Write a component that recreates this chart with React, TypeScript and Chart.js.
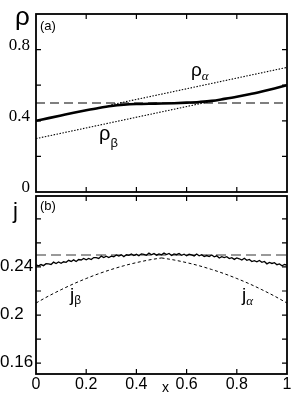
import React, { useEffect, useRef } from "react";
import { Chart, registerables } from "chart.js";
Chart.register(...registerables);

// ---------- panel (a): density ----------
const X_RHO = [0, 0.05, 0.1, 0.15, 0.2, 0.25, 0.3, 0.35, 0.4, 0.45, 0.5, 0.55, 0.6, 0.65, 0.7, 0.75, 0.8, 0.85, 0.9, 0.95, 1];
const RHO_SIM = [0.400, 0.415, 0.430, 0.445, 0.459, 0.472, 0.483, 0.490, 0.494, 0.496, 0.497, 0.499, 0.502, 0.506, 0.512, 0.523, 0.535, 0.549, 0.565, 0.582, 0.600];
const X_RHO_ALPHA = [0.3, 1];
const RHO_ALPHA = [0.49, 0.70];
const X_RHO_BETA = [0, 0.7];
const RHO_BETA = [0.30, 0.51];
const X_REF = [0, 1];
const RHO_REF = [0.5, 0.5];

// ---------- panel (b): current ----------
const X_J = [0, 0.01, 0.02, 0.03, 0.04, 0.05, 0.06, 0.07, 0.08, 0.09, 0.1, 0.11, 0.12, 0.13, 0.14, 0.15, 0.16, 0.17, 0.18, 0.19, 0.2, 0.21, 0.22, 0.23, 0.24, 0.25, 0.26, 0.27, 0.28, 0.29, 0.3, 0.31, 0.32, 0.33, 0.34, 0.35, 0.36, 0.37, 0.38, 0.39, 0.4, 0.41, 0.42, 0.43, 0.44, 0.45, 0.46, 0.47, 0.48, 0.49, 0.5, 0.51, 0.52, 0.53, 0.54, 0.55, 0.56, 0.57, 0.58, 0.59, 0.6, 0.61, 0.62, 0.63, 0.64, 0.65, 0.66, 0.67, 0.68, 0.69, 0.7, 0.71, 0.72, 0.73, 0.74, 0.75, 0.76, 0.77, 0.78, 0.79, 0.8, 0.81, 0.82, 0.83, 0.84, 0.85, 0.86, 0.87, 0.88, 0.89, 0.9, 0.91, 0.92, 0.93, 0.94, 0.95, 0.96, 0.97, 0.98, 0.99, 1];
const J_SIM = [
  0.2418, 0.2409, 0.2420, 0.2411, 0.2427, 0.2426, 0.2421, 0.2440, 0.2429, 0.2441,
  0.2430, 0.2443, 0.2439, 0.2455, 0.2446, 0.2459, 0.2445, 0.2462, 0.2458, 0.2471,
  0.2460, 0.2471, 0.2462, 0.2478, 0.2477, 0.2471, 0.2490, 0.2478, 0.2490, 0.2478,
  0.2490, 0.2485, 0.2500, 0.2490, 0.2501, 0.2486, 0.2501, 0.2496, 0.2508, 0.2495,
  0.2505, 0.2494, 0.2508, 0.2505, 0.2497, 0.2515, 0.2501, 0.2511, 0.2498, 0.2508,
  0.2501, 0.2515, 0.2503, 0.2512, 0.2495, 0.2509, 0.2502, 0.2512, 0.2497, 0.2506,
  0.2493, 0.2506, 0.2501, 0.2492, 0.2508, 0.2493, 0.2502, 0.2486, 0.2495, 0.2487,
  0.2499, 0.2485, 0.2493, 0.2474, 0.2486, 0.2478, 0.2486, 0.2470, 0.2477, 0.2463,
  0.2475, 0.2468, 0.2457, 0.2472, 0.2455, 0.2462, 0.2445, 0.2452, 0.2443, 0.2454,
  0.2439, 0.2446, 0.2426, 0.2438, 0.2429, 0.2436, 0.2419, 0.2425, 0.2410, 0.2421,
  0.2414,
];
const X_J_BETA = [0, 0.05, 0.1, 0.15, 0.2, 0.25, 0.3, 0.35, 0.4, 0.45, 0.5];
const J_BETA = [0.2100, 0.2158, 0.2211, 0.2260, 0.2304, 0.2344, 0.2379, 0.2410, 0.2436, 0.2458, 0.2475];
const X_J_ALPHA = [0.5, 0.55, 0.6, 0.65, 0.7, 0.75, 0.8, 0.85, 0.9, 0.95, 1];
const J_ALPHA = [0.2475, 0.2458, 0.2436, 0.2410, 0.2379, 0.2344, 0.2304, 0.2260, 0.2211, 0.2158, 0.2100];
const J_REF = [0.25, 0.25];

// ---------- ticks ----------
const X_MINOR = [0.2, 0.4, 0.6, 0.8];
const X_LABEL_VALUES = [0, 0.2, 0.4, 0.6, 0.8, 1];
const X_LABELS = ["0", "0.2", "0.4", "0.6", "0.8", "1"];
const RHO_MINOR = [0.2, 0.4, 0.6, 0.8];
const RHO_LABEL_VALUES = [0, 0.4, 0.8];
const RHO_LABELS = ["0", "0.4", "0.8"];
const J_MINOR = [0.16, 0.18, 0.2, 0.22, 0.24, 0.26, 0.28];
const J_LABEL_VALUES = [0.16, 0.2, 0.24];
const J_LABELS = ["0.16", "0.2", "0.24"];

const pts = (xs: number[], ys: number[]) => xs.map((x, i) => ({ x, y: ys[i] }));

const SANS = '"Liberation Sans", Arial, sans-serif';
const SERIF = '"Liberation Serif", "Times New Roman", serif';

type TextPart = { text: string; font: string; dy?: number };
type TextItem = { x: number; y: number; parts: TextPart[]; align?: CanvasTextAlign };

function decorPlugin(cfg: {
  xMinor: number[];
  yMinor: number[];
  yLabelValues: number[];
  yLabels: string[];
  yFont: string;
  yAlign: CanvasTextAlign;
  yLabelX: number;
  yLabelDy: number;
  xLabels?: { values: number[]; labels: string[]; font: string; y: number };
  texts: TextItem[];
}) {
  return {
    id: "decor",
    afterDatasetsDraw(chart: any) {
      const { ctx, chartArea: a, scales } = chart;
      const xs = scales.x;
      const ys = scales.y;
      const L = 5;
      ctx.save();
      ctx.strokeStyle = "#000";
      ctx.lineWidth = 1.2;
      ctx.beginPath();
      for (const v of cfg.xMinor) {
        const p = xs.getPixelForValue(v);
        ctx.moveTo(p, a.top);
        ctx.lineTo(p, a.top + L);
        ctx.moveTo(p, a.bottom);
        ctx.lineTo(p, a.bottom - L);
      }
      for (const v of cfg.yMinor) {
        const p = ys.getPixelForValue(v);
        ctx.moveTo(a.left, p);
        ctx.lineTo(a.left + L, p);
        ctx.moveTo(a.right, p);
        ctx.lineTo(a.right - L, p);
      }
      ctx.stroke();
      ctx.lineWidth = 1.8;
      ctx.strokeRect(a.left, a.top, a.right - a.left, a.bottom - a.top);

      ctx.fillStyle = "#000";
      ctx.font = cfg.yFont;
      ctx.textAlign = cfg.yAlign;
      ctx.textBaseline = "middle";
      cfg.yLabelValues.forEach((v, i) => {
        ctx.fillText(cfg.yLabels[i], cfg.yLabelX, ys.getPixelForValue(v) + cfg.yLabelDy);
      });
      if (cfg.xLabels) {
        ctx.font = cfg.xLabels.font;
        ctx.textAlign = "center";
        cfg.xLabels.values.forEach((v, i) => {
          ctx.fillText(cfg.xLabels!.labels[i], xs.getPixelForValue(v), cfg.xLabels!.y);
        });
      }
      ctx.textBaseline = "alphabetic";
      for (const t of cfg.texts) {
        let x = t.x;
        ctx.textAlign = t.align || "left";
        for (const p of t.parts) {
          ctx.font = p.font;
          ctx.fillText(p.text, x, t.y + (p.dy || 0));
          x += ctx.measureText(p.text).width;
        }
      }
      ctx.restore();
    },
  };
}

const lineDs = (data: any[], extra: any) => ({
  data,
  pointRadius: 0,
  fill: false,
  borderColor: "#000",
  borderWidth: 1,
  ...extra,
});

export default function App() {
  const topRef = useRef<HTMLCanvasElement>(null);
  const botRef = useRef<HTMLCanvasElement>(null);

  useEffect(() => {
    const top = new Chart(topRef.current!, {
      type: "line",
      data: {
        datasets: [
          lineDs(pts(X_RHO, RHO_SIM), { borderWidth: 2.6, cubicInterpolationMode: "monotone" }),
          lineDs(pts(X_RHO_ALPHA, RHO_ALPHA), { borderWidth: 1.1, borderDash: [1.5, 1.5] }),
          lineDs(pts(X_RHO_BETA, RHO_BETA), { borderWidth: 1.1, borderDash: [1.5, 1.5] }),
          lineDs(pts(X_REF, RHO_REF), { borderWidth: 1.1, borderDash: [9, 5] }),
        ],
      },
      options: {
        animation: false,
        responsive: false,
        layout: { padding: { left: 36, right: 4, top: 14, bottom: 3 } },
        plugins: { legend: { display: false }, tooltip: { enabled: false } },
        scales: {
          x: { type: "linear", min: 0, max: 1, display: false },
          y: { type: "linear", min: 0, max: 1, display: false },
        },
      },
      plugins: [
        decorPlugin({
          xMinor: X_MINOR,
          yMinor: RHO_MINOR,
          yLabelValues: RHO_LABEL_VALUES,
          yLabels: RHO_LABELS,
          yFont: `17px ${SERIF}`,
          yAlign: "right",
          yLabelX: 30,
          yLabelDy: -4.5,
          texts: [
            { x: 15, y: 25, parts: [{ text: "ρ", font: `26px ${SANS}` }] },
            { x: 40, y: 30, parts: [{ text: "(a)", font: `13px ${SANS}` }] },
            {
              x: 191,
              y: 76,
              parts: [
                { text: "ρ", font: `19px ${SANS}` },
                { text: "α", font: `italic 13px ${SERIF}`, dy: 4 },
              ],
            },
            {
              x: 99,
              y: 140,
              parts: [
                { text: "ρ", font: `20px ${SANS}` },
                { text: "β", font: `13px ${SANS}`, dy: 7 },
              ],
            },
          ],
        }) as any,
      ],
    } as any);

    const bot = new Chart(botRef.current!, {
      type: "line",
      data: {
        datasets: [
          lineDs(pts(X_J, J_SIM), { borderWidth: 1.3 }),
          lineDs(pts(X_J_BETA, J_BETA), { borderWidth: 1, borderDash: [3, 2.5], cubicInterpolationMode: "monotone" }),
          lineDs(pts(X_J_ALPHA, J_ALPHA), { borderWidth: 1, borderDash: [3, 2.5], cubicInterpolationMode: "monotone" }),
          lineDs(pts(X_REF, J_REF), { borderWidth: 2, borderDash: [10, 5], borderColor: "#999" }),
        ],
      },
      options: {
        animation: false,
        responsive: false,
        layout: { padding: { left: 36, right: 4, top: 1, bottom: 25 } },
        plugins: { legend: { display: false }, tooltip: { enabled: false } },
        scales: {
          x: { type: "linear", min: 0, max: 1, display: false },
          y: { type: "linear", min: 0.151, max: 0.299, display: false },
        },
      },
      plugins: [
        decorPlugin({
          xMinor: X_MINOR,
          yMinor: J_MINOR,
          yLabelValues: J_LABEL_VALUES,
          yLabels: J_LABELS,
          yFont: `17px ${SANS}`,
          yAlign: "left",
          yLabelX: 0,
          yLabelDy: -1,
          xLabels: { values: X_LABEL_VALUES, labels: X_LABELS, font: `16px ${SANS}`, y: 190 },
          texts: [
            { x: 40, y: 15, parts: [{ text: "(b)", font: `13px ${SANS}` }] },
            { x: 13, y: 23, parts: [{ text: "j", font: `22px ${SANS}` }] },
            { x: 165.5, y: 197, align: "center", parts: [{ text: "x", font: `14px ${SANS}` }] },
            {
              x: 70,
              y: 106,
              parts: [
                { text: "j", font: `19px ${SANS}` },
                { text: "β", font: `12px ${SANS}`, dy: 3 },
              ],
            },
            {
              x: 242,
              y: 106,
              parts: [
                { text: "j", font: `19px ${SANS}` },
                { text: "α", font: `italic 13px ${SERIF}`, dy: 4 },
              ],
            },
          ],
        }) as any,
      ],
    } as any);

    return () => {
      top.destroy();
      bot.destroy();
    };
  }, []);

  return (
    <div style={{ position: "absolute", left: 0, top: 0, width: 291, height: 399, background: "#fff" }}>
      <canvas
        ref={topRef}
        width={291}
        height={195}
        style={{ position: "absolute", left: 0, top: 0, width: 291, height: 195 }}
      />
      <canvas
        ref={botRef}
        width={291}
        height={204}
        style={{ position: "absolute", left: 0, top: 195, width: 291, height: 204 }}
      />
    </div>
  );
}
